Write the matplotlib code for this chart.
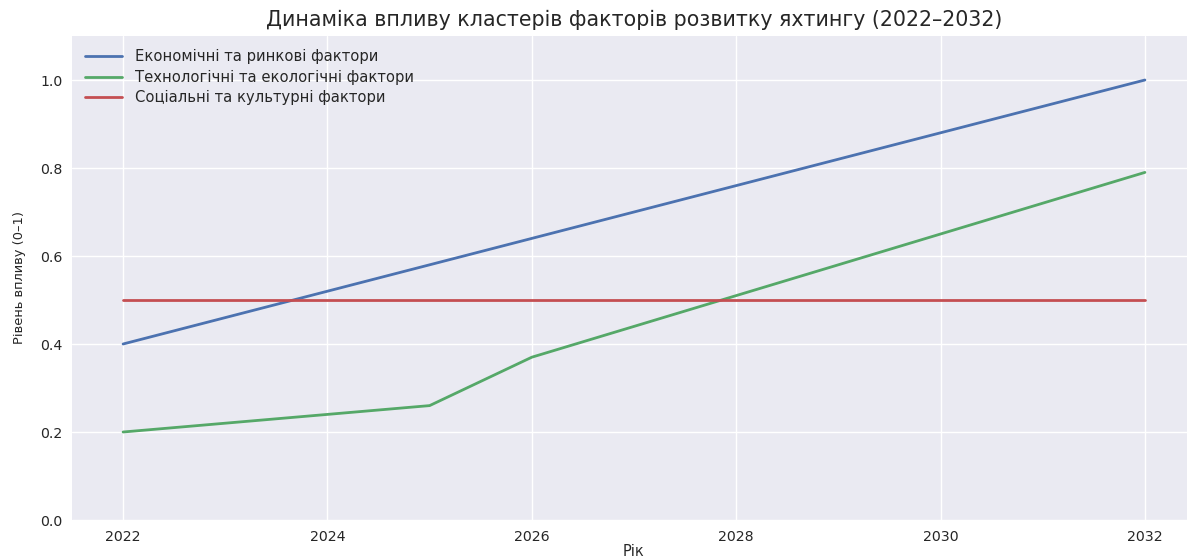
import matplotlib
matplotlib.use("Agg")
import matplotlib.pyplot as plt

years = [2022, 2023, 2024, 2025, 2026, 2027, 2028, 2029, 2030, 2031, 2032]
economic = [0.40, 0.46, 0.52, 0.58, 0.64, 0.70, 0.76, 0.82, 0.88, 0.94, 1.00]
tech_eco = [0.20, 0.22, 0.24, 0.26, 0.37, 0.44, 0.51, 0.58, 0.65, 0.72, 0.79]
social = [0.50] * 11
labels = ["Економічні та ринкові фактори",
          "Технологічні та екологічні фактори",
          "Соціальні та культурні фактори"]
colors = ["#4C72B0", "#55A868", "#C44E52"]

plt.style.use("seaborn-v0_8")
plt.rcParams['font.family'] = ['DejaVu Sans']

fig = plt.figure(figsize=(11.87, 5.58), dpi=100)
ax = fig.add_axes([72/1187, 38/558, 1124/1187, 484/558])

for series, lab, col in zip([economic, tech_eco, social], labels, colors):
    ax.plot(years, series, label=lab, color=col, linewidth=2)

ax.set_xlim(2021.5, 2032.5)
ax.set_ylim(0, 1.1)
ax.set_xticks([2022, 2024, 2026, 2028, 2030, 2032])
ax.set_yticks([0.0, 0.2, 0.4, 0.6, 0.8, 1.0])
ax.tick_params(labelsize=10.2)
ax.set_title("Динаміка впливу кластерів факторів розвитку яхтингу (2022–2032)",
             fontsize=14.8, pad=7, color="#262626")
ax.set_xlabel("Рік", fontsize=10.5, labelpad=0)
ax.set_ylabel("Рівень впливу (0–1)", fontsize=9.4, labelpad=10)
ax.legend(loc="upper left", fontsize=10.6, frameon=False, labelspacing=0.38,
          handlelength=2.5, handletextpad=0.9, borderaxespad=0.5)

fig.savefig("out.png", dpi=100)
